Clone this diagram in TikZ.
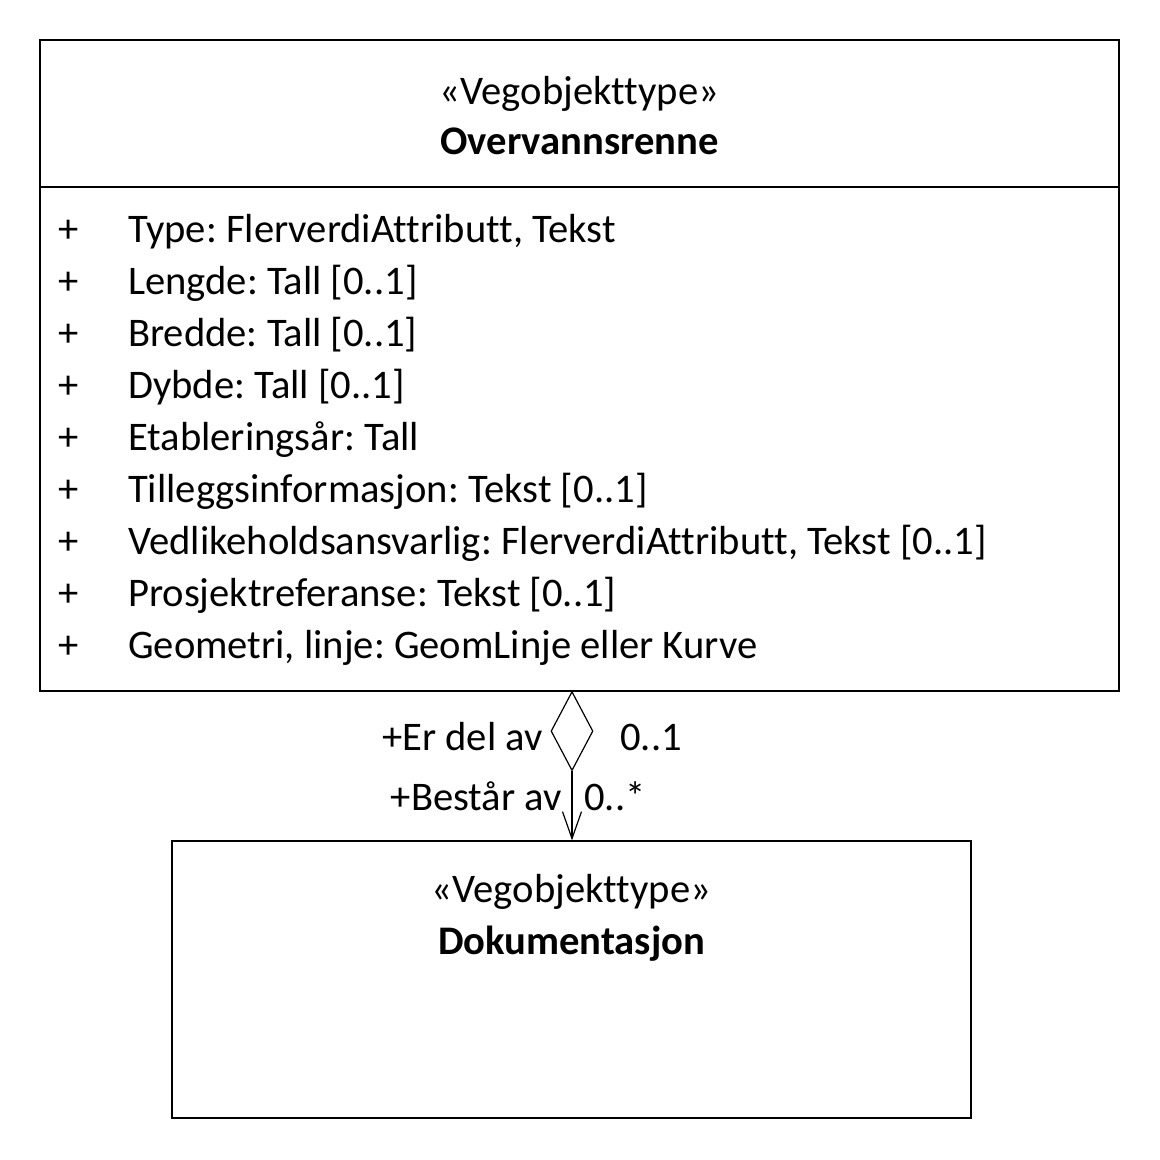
\documentclass[tikz,border=0pt]{standalone}
\usepackage{fontspec}
\setmainfont{Carlito}[RawFeature=-liga]
\frenchspacing
\usetikzlibrary{shapes.geometric,arrows.meta}
\begin{document}
\begin{tikzpicture}[x=1pt,y=-1pt,
  umlbox/.style={draw=black,line width=1.2pt,inner sep=0pt,rectangle},
  txt/.style={inner sep=0pt,anchor=base west,font=\fontsize{40.6}{48}\selectfont},
  ctxt/.style={inner sep=0pt,anchor=base,font=\fontsize{40.6}{48}\selectfont},
  lbl/.style={inner sep=0pt,font=\fontsize{40.6}{48}\selectfont},
  conn/.style={line width=1.2pt}]
\useasboundingbox (0,0) rectangle (1160,1160);
\fill[white] (0,0) rectangle (1160,1160);
% top class
\node[umlbox,minimum width=1079pt,minimum height=651pt] (top) at (579.5,365.5) {};
\draw[conn] (40,187) -- (1119,187);
\node[ctxt] (st1) at (579.5,104) {«Vegobjekttype»};
\node[ctxt] (nm1) at (579.5,154) {\bfseries Overvannsrenne};
\foreach \i in {0,...,8}{\node[txt] (p\i) at (58,242+52*\i) {+};}
\node[txt] (a0) at (128,242) {Type: FlerverdiAttributt, Tekst};
\node[txt] (a1) at (128,294) {Lengde: Tall [0..1]};
\node[txt] (a2) at (128,346) {Bredde: Tall [0..1]};
\node[txt] (a3) at (128,398) {Dybde: Tall [0..1]};
\node[txt] (a4) at (128,450) {Etableringsår: Tall};
\node[txt] (a5) at (128,502) {Tilleggsinformasjon: Tekst [0..1]};
\node[txt] (a6) at (128,554) {Vedlikeholdsansvarlig: FlerverdiAttributt, Tekst [0..1]};
\node[txt] (a7) at (128,606) {Prosjektreferanse: Tekst [0..1]};
\node[txt] (a8) at (128,658) {Geometri, linje: GeomLinje eller Kurve};
% bottom class
\node[umlbox,minimum width=799pt,minimum height=277pt] (bot) at (571.5,979.5) {};
\node[ctxt] (st2) at (571.5,902) {«Vegobjekttype»};
\node[ctxt] (nm2) at (571.5,954) {\bfseries Dokumentasjon};
% aggregation
\node[draw=black,line width=1.2pt,diamond,inner sep=0pt,minimum width=42pt,minimum height=79pt,anchor=north] (agg) at (572,691) {};
\draw[conn,-{Straight Barb[length=27pt,width=19pt,line width=1.2pt]}] (agg.south) -- (agg.south |- bot.north);
\node[lbl,anchor=base east] (l1) at (543,750) {+Er del av};
\node[lbl,anchor=base west] (m1) at (620,750) {0..1};
\node[lbl,anchor=base east] (l2) at (562,810) {+Består av};
\node[lbl,anchor=base west] (m2) at (584,810) {0..*};
\end{tikzpicture}
\end{document}
